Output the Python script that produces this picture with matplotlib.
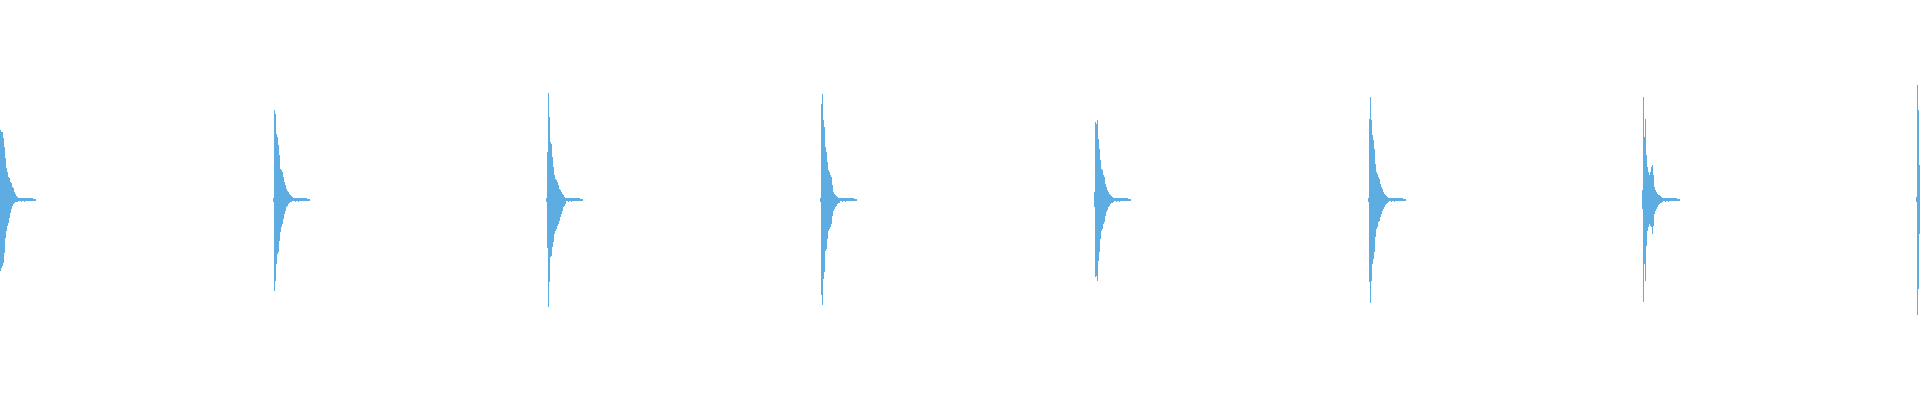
import matplotlib

matplotlib.use("Agg")

import matplotlib.pyplot as plt
import numpy as np


OUTPUT_PATH = "out.png"

WAVE_COLOR = "#5DADE2"

# duration shown across the full width, seconds
DURATION_S = 3.505
# envelope data below is read once per screen column
COLUMNS = 1920

# onset (first envelope column) of every hit, seconds
HIT_ONSETS_S = [0.0, 0.4984, 0.9967, 1.4969, 1.9971, 2.4973, 2.9975, 3.4977]

# decaying ring after each hit, same for every hit
TAIL_TOP = [0.012, 0.012, 0.012, 0.012, 0.010, 0.012, 0.010, 0.010, 0.012,
            0.010, 0.008, 0.010, 0.008, 0.008, 0.006, 0.006, 0.005]
TAIL_BOTTOM = [-0.007, -0.007, -0.008, -0.007, -0.007, -0.008, -0.007, -0.006,
               -0.007, -0.006, -0.006, -0.006, -0.005, -0.005, -0.004, -0.004, -0.004]

# upper / lower envelope of each hit, one value per column
HIT1_TOP = [0.348, 0.338, 0.338, 0.308, 0.263, 0.208, 0.158, 0.138, 0.113, 0.108,
            0.088, 0.083, 0.063, 0.058, 0.038, 0.028, 0.018, 0.013, 0.012]
HIT1_BOTTOM = [-0.353, -0.338, -0.328, -0.313, -0.263, -0.188, -0.153, -0.128, -0.113,
               -0.088, -0.063, -0.043, -0.028, -0.018, -0.013, -0.010, -0.008, -0.008, -0.007]

HIT2_TOP = [0.010, 0.451, 0.431, 0.331, 0.314, 0.273, 0.223, 0.156, 0.148, 0.139, 0.114,
            0.089, 0.073, 0.056, 0.044, 0.039, 0.031, 0.023, 0.018, 0.014]
HIT2_BOTTOM = [-0.010, -0.453, -0.403, -0.319, -0.269, -0.261, -0.203, -0.161, -0.136,
               -0.119, -0.094, -0.069, -0.053, -0.036, -0.028, -0.019, -0.013, -0.011,
               -0.008, -0.007]

HIT3_TOP = [0.010, 0.239, 0.536, 0.414, 0.289, 0.278, 0.214, 0.164, 0.123, 0.106, 0.098,
            0.089, 0.073, 0.056, 0.048, 0.039, 0.031, 0.023, 0.014, 0.011]
HIT3_BOTTOM = [-0.010, -0.239, -0.535, -0.411, -0.286, -0.278, -0.236, -0.211, -0.169,
               -0.153, -0.144, -0.128, -0.119, -0.103, -0.086, -0.069, -0.053, -0.036,
               -0.028, -0.019]

HIT4_TOP = [0.010, 0.481, 0.531, 0.398, 0.364, 0.264, 0.239, 0.189, 0.148, 0.139, 0.123,
            0.114, 0.073, 0.039, 0.031, 0.023, 0.018, 0.014, 0.011, 0.009]
HIT4_BOTTOM = [-0.010, -0.477, -0.527, -0.394, -0.361, -0.253, -0.244, -0.194, -0.153,
               -0.144, -0.136, -0.119, -0.078, -0.053, -0.044, -0.036, -0.028, -0.019,
               -0.016, -0.013]

HIT5_TOP = [0.039, 0.389, 0.381, 0.398, 0.306, 0.256, 0.198, 0.156, 0.148, 0.123, 0.114,
            0.081, 0.064, 0.048, 0.039, 0.031, 0.023, 0.018, 0.014, 0.011]
HIT5_BOTTOM = [-0.036, -0.386, -0.378, -0.403, -0.303, -0.261, -0.194, -0.153, -0.144,
               -0.119, -0.111, -0.078, -0.061, -0.049, -0.036, -0.028, -0.019, -0.016,
               -0.013, -0.009]

HIT6_TOP = [0.011, 0.406, 0.514, 0.401, 0.323, 0.298, 0.256, 0.181, 0.139, 0.131, 0.114,
            0.106, 0.081, 0.064, 0.056, 0.039, 0.031, 0.023, 0.018, 0.014, 0.011]
HIT6_BOTTOM = [-0.011, -0.411, -0.515, -0.403, -0.319, -0.294, -0.261, -0.186, -0.144,
               -0.136, -0.111, -0.103, -0.086, -0.069, -0.053, -0.044, -0.036, -0.024,
               -0.019, -0.016, -0.011]

HIT7_TOP = [0.048, 0.514, 0.314, 0.406, 0.223, 0.164, 0.139, 0.123, 0.139, 0.164, 0.173,
            0.123, 0.064, 0.048, 0.039, 0.031, 0.026, 0.023, 0.018, 0.014, 0.011]
HIT7_BOTTOM = [-0.044, -0.511, -0.319, -0.403, -0.228, -0.153, -0.136, -0.119, -0.128,
               -0.136, -0.169, -0.128, -0.069, -0.053, -0.044, -0.036, -0.023, -0.019,
               -0.016, -0.013, -0.009]

HIT8_TOP = [0.014, 0.573, 0.448, 0.173]
HIT8_BOTTOM = [-0.011, -0.573, -0.444, -0.169]


def hit_envelope(top, bottom, with_tail=True):
    if with_tail:
        top = list(top) + TAIL_TOP
        bottom = list(bottom) + TAIL_BOTTOM
    return np.array(top), np.array(bottom)


def main() -> None:
    hits = [
        (HIT1_TOP, HIT1_BOTTOM),
        (HIT2_TOP, HIT2_BOTTOM),
        (HIT3_TOP, HIT3_BOTTOM),
        (HIT4_TOP, HIT4_BOTTOM),
        (HIT5_TOP, HIT5_BOTTOM),
        (HIT6_TOP, HIT6_BOTTOM),
        (HIT7_TOP, HIT7_BOTTOM),
        (HIT8_TOP, HIT8_BOTTOM),
    ]

    step = DURATION_S / COLUMNS

    fig = plt.figure(figsize=(19.2, 4.0), dpi=100)
    ax = fig.add_axes([0, 0, 1, 1])

    for onset, (top, bottom) in zip(HIT_ONSETS_S, hits):
        top_arr, bottom_arr = hit_envelope(top, bottom, with_tail=len(top) > 4)
        # extra point so the last column is drawn with step="post"
        top_arr = np.append(top_arr, top_arr[-1])
        bottom_arr = np.append(bottom_arr, bottom_arr[-1])
        t = onset + np.arange(len(top_arr)) * step
        ax.fill_between(t, bottom_arr, top_arr, step="post",
                        color=WAVE_COLOR, linewidth=0)

    ax.set_xlim(0, DURATION_S)
    ax.set_ylim(-1, 1)
    ax.axis("off")

    fig.savefig(OUTPUT_PATH, dpi=100, facecolor="white")
    plt.close(fig)


if __name__ == "__main__":
    main()
